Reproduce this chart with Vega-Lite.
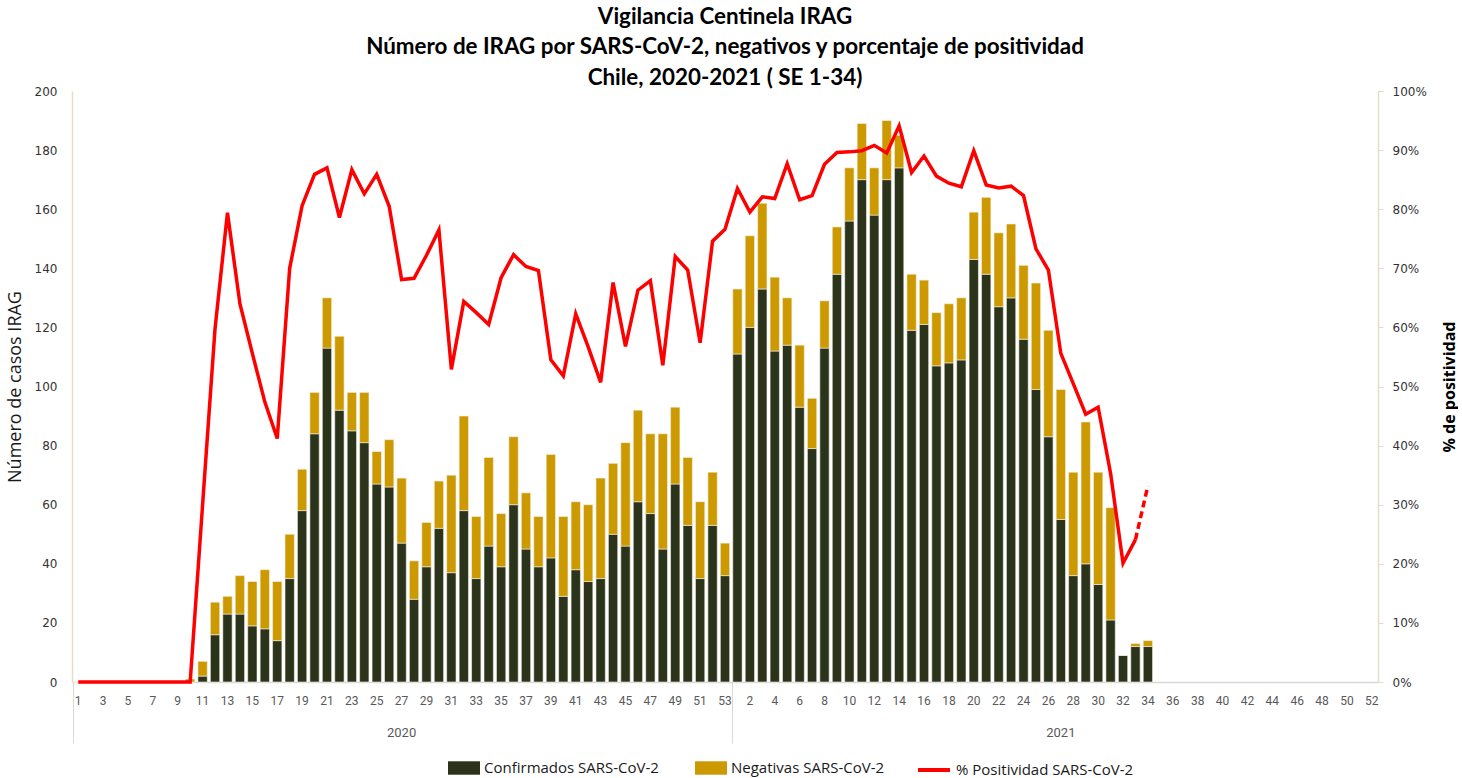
{
  "$schema": "https://vega.github.io/schema/vega-lite/v6.json",
  "width": 1306,
  "height": 591,
  "autosize": {"type": "pad"},
  "padding": {"left": 6, "top": 5, "right": 0, "bottom": 0},
  "background": "white",
  "config": {"view": {"stroke": null}},
  "title": {
    "text": ["Vigilancia Centinela IRAG", "Número de IRAG por SARS-CoV-2,  negativos y porcentaje de positividad", "Chile, 2020-2021 ( SE 1-34)"],
    "font": "Lato", "fontSize": 22.4, "fontWeight": "bold", "lineHeight": 30.5,
    "anchor": "middle", "offset": -4, "color": "#000000"
  },
  "data": {"values": [
    {"k":"2020-01","conf":0,"neg":0,"pos":0},{"k":"2020-02","conf":0,"neg":0,"pos":0},{"k":"2020-03","conf":0,"neg":0,"pos":0},
    {"k":"2020-04","conf":0,"neg":0,"pos":0},{"k":"2020-05","conf":0,"neg":0,"pos":0},{"k":"2020-06","conf":0,"neg":0,"pos":0},
    {"k":"2020-07","conf":0,"neg":0,"pos":0},{"k":"2020-08","conf":0,"neg":0,"pos":0},{"k":"2020-09","conf":0,"neg":0,"pos":0},
    {"k":"2020-10","conf":0,"neg":1,"pos":0},{"k":"2020-11","conf":2,"neg":5,"pos":30},{"k":"2020-12","conf":16,"neg":11,"pos":59.8},
    {"k":"2020-13","conf":23,"neg":6,"pos":79.4},{"k":"2020-14","conf":23,"neg":13,"pos":64.0},{"k":"2020-15","conf":19,"neg":15,"pos":55.6},
    {"k":"2020-16","conf":18,"neg":20,"pos":47.4},{"k":"2020-17","conf":14,"neg":20,"pos":41.2},{"k":"2020-18","conf":35,"neg":15,"pos":70.0},
    {"k":"2020-19","conf":58,"neg":14,"pos":80.6},{"k":"2020-20","conf":84,"neg":14,"pos":85.9},{"k":"2020-21","conf":113,"neg":17,"pos":87.0},
    {"k":"2020-22","conf":92,"neg":25,"pos":78.6},{"k":"2020-23","conf":85,"neg":13,"pos":86.7},{"k":"2020-24","conf":81,"neg":17,"pos":82.6},
    {"k":"2020-25","conf":67,"neg":11,"pos":85.9},{"k":"2020-26","conf":66,"neg":16,"pos":80.5},{"k":"2020-27","conf":47,"neg":22,"pos":68.1},
    {"k":"2020-28","conf":28,"neg":13,"pos":68.3},{"k":"2020-29","conf":39,"neg":15,"pos":72.2},{"k":"2020-30","conf":52,"neg":16,"pos":76.5},
    {"k":"2020-31","conf":37,"neg":33,"pos":52.9},{"k":"2020-32","conf":58,"neg":32,"pos":64.4},{"k":"2020-33","conf":35,"neg":21,"pos":62.5},
    {"k":"2020-34","conf":46,"neg":30,"pos":60.5},{"k":"2020-35","conf":39,"neg":18,"pos":68.4},{"k":"2020-36","conf":60,"neg":23,"pos":72.3},
    {"k":"2020-37","conf":45,"neg":19,"pos":70.3},{"k":"2020-38","conf":39,"neg":17,"pos":69.6},{"k":"2020-39","conf":42,"neg":35,"pos":54.5},
    {"k":"2020-40","conf":29,"neg":27,"pos":51.8},{"k":"2020-41","conf":38,"neg":23,"pos":62.3},{"k":"2020-42","conf":34,"neg":26,"pos":56.7},
    {"k":"2020-43","conf":35,"neg":34,"pos":50.7},{"k":"2020-44","conf":50,"neg":24,"pos":67.6},{"k":"2020-45","conf":46,"neg":35,"pos":56.8},
    {"k":"2020-46","conf":61,"neg":31,"pos":66.3},{"k":"2020-47","conf":57,"neg":27,"pos":67.9},{"k":"2020-48","conf":45,"neg":39,"pos":53.6},
    {"k":"2020-49","conf":67,"neg":26,"pos":72.0},{"k":"2020-50","conf":53,"neg":23,"pos":69.7},{"k":"2020-51","conf":35,"neg":26,"pos":57.4},
    {"k":"2020-52","conf":53,"neg":18,"pos":74.6},{"k":"2020-53","conf":36,"neg":11,"pos":76.6},
    {"k":"2021-01","conf":111,"neg":22,"pos":83.5},{"k":"2021-02","conf":120,"neg":31,"pos":79.5},{"k":"2021-03","conf":133,"neg":29,"pos":82.1},
    {"k":"2021-04","conf":112,"neg":25,"pos":81.8},{"k":"2021-05","conf":114,"neg":16,"pos":87.7},{"k":"2021-06","conf":93,"neg":21,"pos":81.6},
    {"k":"2021-07","conf":79,"neg":17,"pos":82.3},{"k":"2021-08","conf":113,"neg":16,"pos":87.6},{"k":"2021-09","conf":138,"neg":16,"pos":89.6},
    {"k":"2021-10","conf":156,"neg":18,"pos":89.7},{"k":"2021-11","conf":170,"neg":19,"pos":89.9},{"k":"2021-12","conf":158,"neg":16,"pos":90.8},
    {"k":"2021-13","conf":170,"neg":20,"pos":89.5},{"k":"2021-14","conf":174,"neg":11,"pos":94.1},{"k":"2021-15","conf":119,"neg":19,"pos":86.2},
    {"k":"2021-16","conf":121,"neg":15,"pos":89.0},{"k":"2021-17","conf":107,"neg":18,"pos":85.6},{"k":"2021-18","conf":108,"neg":20,"pos":84.4},
    {"k":"2021-19","conf":109,"neg":21,"pos":83.8},{"k":"2021-20","conf":143,"neg":16,"pos":89.9},{"k":"2021-21","conf":138,"neg":26,"pos":84.1},
    {"k":"2021-22","conf":127,"neg":25,"pos":83.6},{"k":"2021-23","conf":130,"neg":25,"pos":83.9},{"k":"2021-24","conf":116,"neg":25,"pos":82.3},
    {"k":"2021-25","conf":99,"neg":36,"pos":73.3},{"k":"2021-26","conf":83,"neg":36,"pos":69.7},{"k":"2021-27","conf":55,"neg":44,"pos":55.6},
    {"k":"2021-28","conf":36,"neg":35,"pos":50.5},{"k":"2021-29","conf":40,"neg":48,"pos":45.3},{"k":"2021-30","conf":33,"neg":38,"pos":46.5},
    {"k":"2021-31","conf":21,"neg":38,"pos":35.3},{"k":"2021-32","conf":9,"neg":0,"pos":20.1},{"k":"2021-33","conf":12,"neg":1,"pos":24.1},
    {"k":"2021-34","conf":12,"neg":2,"pos":33.2},
    {"k":"2021-35"},{"k":"2021-36"},{"k":"2021-37"},{"k":"2021-38"},{"k":"2021-39"},{"k":"2021-40"},
    {"k":"2021-41"},{"k":"2021-42"},{"k":"2021-43"},{"k":"2021-44"},{"k":"2021-45"},{"k":"2021-46"},
    {"k":"2021-47"},{"k":"2021-48"},{"k":"2021-49"},{"k":"2021-50"},{"k":"2021-51"},{"k":"2021-52"}
  ]},
  "layer": [
    {
      "transform": [{"fold": ["conf", "neg"], "as": ["serie", "valor"]}],
      "mark": {"type": "bar", "stroke": "#f4f1e6", "strokeWidth": 0.6},
      "encoding": {
        "x": {"field": "k", "type": "ordinal",
          "scale": {"paddingInner": 0.25, "paddingOuter": 0.125, "domain": ["2020-01","2020-02","2020-03","2020-04","2020-05","2020-06","2020-07","2020-08","2020-09","2020-10","2020-11","2020-12","2020-13","2020-14","2020-15","2020-16","2020-17","2020-18","2020-19","2020-20","2020-21","2020-22","2020-23","2020-24","2020-25","2020-26","2020-27","2020-28","2020-29","2020-30","2020-31","2020-32","2020-33","2020-34","2020-35","2020-36","2020-37","2020-38","2020-39","2020-40","2020-41","2020-42","2020-43","2020-44","2020-45","2020-46","2020-47","2020-48","2020-49","2020-50","2020-51","2020-52","2020-53","2021-01","2021-02","2021-03","2021-04","2021-05","2021-06","2021-07","2021-08","2021-09","2021-10","2021-11","2021-12","2021-13","2021-14","2021-15","2021-16","2021-17","2021-18","2021-19","2021-20","2021-21","2021-22","2021-23","2021-24","2021-25","2021-26","2021-27","2021-28","2021-29","2021-30","2021-31","2021-32","2021-33","2021-34","2021-35","2021-36","2021-37","2021-38","2021-39","2021-40","2021-41","2021-42","2021-43","2021-44","2021-45","2021-46","2021-47","2021-48","2021-49","2021-50","2021-51","2021-52"]},
          "axis": {"orient": "bottom", "title": null, "labelAngle": 0, "labelOverlap": false,
            "labelExpr": "(toNumber(slice(datum.value,5)) % 2 == (slice(datum.value,0,4) == '2020' ? 1 : 0)) ? '' + toNumber(slice(datum.value,5)) : ''",
            "ticks": false, "tickSize": 0, "domainColor": "#d9d9d9", "domainWidth": 1.5,
            "labelColor": "#595959", "labelFont": "Roboto", "labelFontSize": 12, "labelPadding": 13}},
        "y": {"field": "valor", "type": "quantitative", "stack": "zero",
          "scale": {"domain": [0, 200]},
          "axis": {"title": "Número de casos IRAG", "values": [0,20,40,60,80,100,120,140,160,180,200],
            "grid": false, "ticks": false, "tickSize": 0, "domainColor": "#e3ddc8", "domainWidth": 1.5,
            "labelFont": "DejaVu Sans", "labelFontSize": 12, "labelColor": "#333333", "labelPadding": 15,
            "titleFont": "Open Sans", "titleFontSize": 18, "titleFontWeight": "normal", "titleColor": "#1a1a1a", "titlePadding": 10}},
        "fill": {"field": "serie", "type": "nominal",
          "scale": {"domain": ["conf", "neg"], "range": ["#2B331B", "#CC9900"]},
          "legend": {"orient": "none", "legendX": 376, "legendY": 661, "direction": "horizontal", "title": null,
            "labelExpr": "datum.value == 'conf' ? 'Confirmados SARS-CoV-2' : 'Negativas SARS-CoV-2'",
            "labelFont": "Open Sans", "labelFontSize": 15, "labelColor": "#1a1a1a", "labelOffset": 4, "labelLimit": 400,
            "columnPadding": 36, "symbolSize": 1024, "symbolType": "M-1,-0.42H1V0.42H-1Z", "symbolStrokeWidth": 0, "symbolOpacity": 1}},
        "order": {"field": "serie", "sort": "ascending"}
      }
    },
    {
      "transform": [{"filter": "datum.k <= '2021-33' && isValid(datum.pos)"}],
      "mark": {"type": "line", "strokeWidth": 3.5, "strokeJoin": "miter"},
      "encoding": {
        "x": {"field": "k", "type": "ordinal",
          "axis": {"orient": "bottom", "title": null, "values": ["2020-01", "2021-01"], "bandPosition": 0,
            "labels": false, "domain": false, "ticks": true, "tickSize": 61, "tickColor": "#d9d9d9", "tickWidth": 1}},
        "y": {"field": "pos", "type": "quantitative", "scale": {"domain": [0, 100]},
          "axis": {"orient": "right", "title": "% de positividad", "titleAngle": 270,
            "values": [0,10,20,30,40,50,60,70,80,90,100], "labelExpr": "datum.value + '%'",
            "grid": false, "ticks": true, "tickSize": 5, "tickColor": "#e3ddc8", "domainColor": "#e3ddc8", "domainWidth": 1.5,
            "labelFont": "DejaVu Sans", "labelFontSize": 12, "labelColor": "#333333", "labelPadding": 9,
            "titleFont": "Open Sans", "titleFontSize": 16, "titleFontWeight": "bold", "titleColor": "#000000", "titlePadding": 31}},
        "stroke": {"datum": "pos",
          "scale": {"domain": ["pos"], "range": ["#FF0000"]},
          "legend": {"orient": "none", "legendX": 844, "legendY": 661, "direction": "horizontal", "title": null,
            "labelExpr": "'% Positividad SARS-CoV-2'",
            "labelFont": "Open Sans", "labelFontSize": 15, "labelColor": "#1a1a1a", "labelOffset": 4, "labelLimit": 400,
            "symbolType": "stroke", "symbolSize": 1024, "symbolStrokeWidth": 4, "symbolStrokeColor": "#FF0000", "symbolOpacity": 1}}
      }
    },
    {
      "transform": [{"filter": "datum.k >= '2021-33' && datum.k <= '2021-34' && isValid(datum.pos)"}],
      "mark": {"type": "line", "strokeWidth": 3.5, "strokeDash": [7, 4]},
      "encoding": {
        "x": {"field": "k", "type": "ordinal",
          "axis": {"orient": "bottom", "title": null, "values": ["2020-27", "2021-27"],
            "labelExpr": "slice(datum.value,0,4)", "labelAngle": 0, "ticks": false, "tickSize": 0, "domain": false,
            "labelPadding": 44, "labelColor": "#595959", "labelFont": "Roboto", "labelFontSize": 13}},
        "y": {"field": "pos", "type": "quantitative", "scale": {"domain": [0, 100]}, "axis": null},
        "stroke": {"datum": "pos"}
      }
    }
  ],
  "resolve": {"scale": {"y": "independent"}, "axis": {"x": "independent"}}
}
